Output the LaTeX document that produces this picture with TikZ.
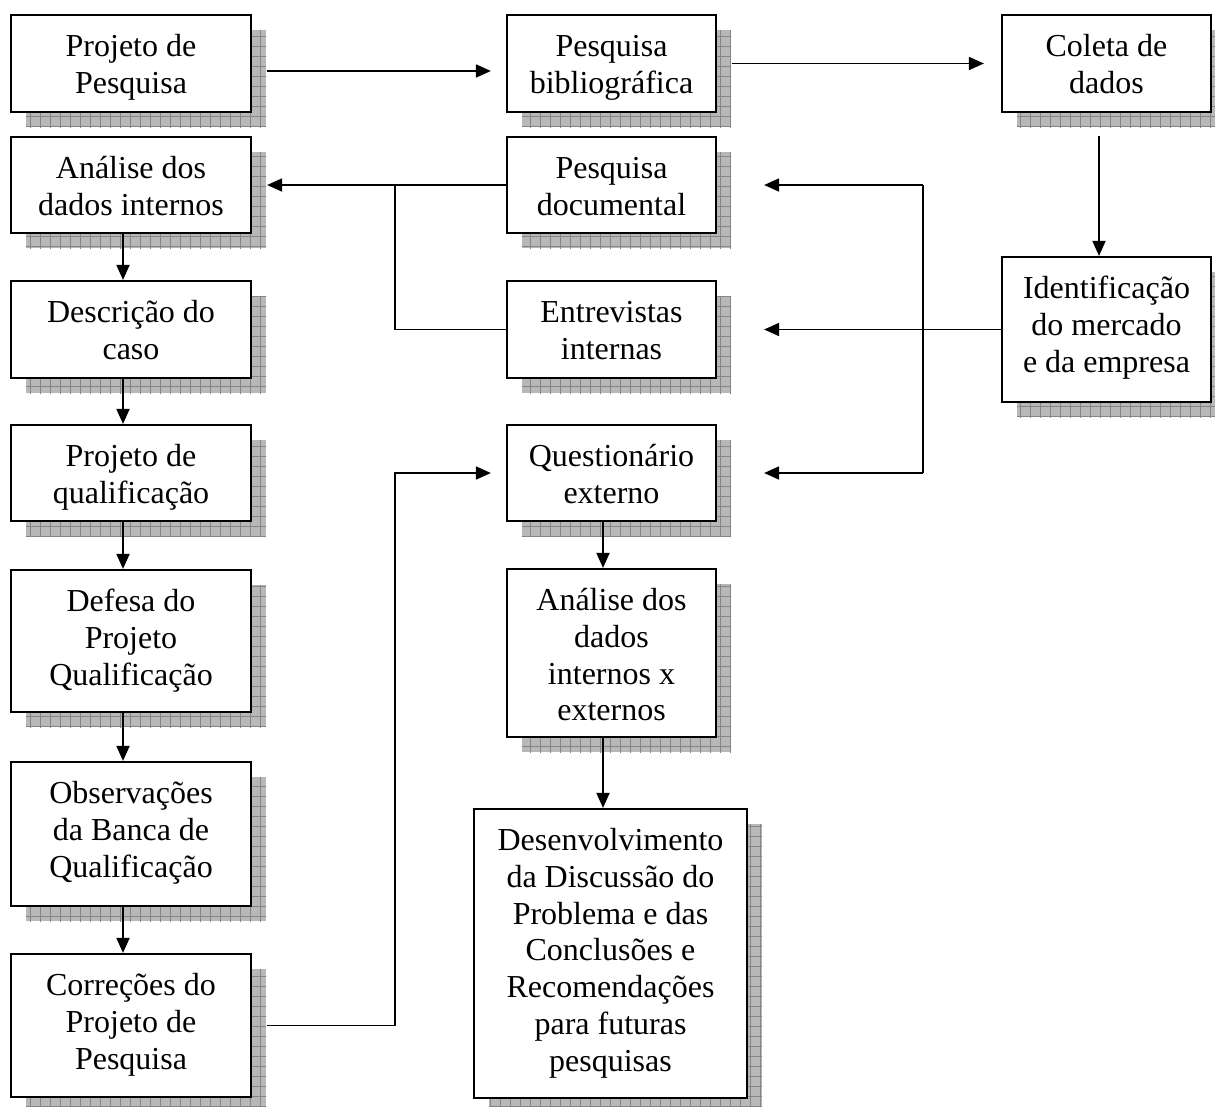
\documentclass[tikz,border=0pt]{standalone}
\usepackage{fontspec}
\setmainfont{Liberation Serif}
\usetikzlibrary{arrows.meta,patterns.meta}
\tikzset{
  boxst/.style={draw, line width=2.2pt, fill=white, inner sep=0pt},
  txtst/.style={align=center, inner sep=0pt, anchor=north,
    font=\fontsize{32}{36.7}\selectfont},
  shadowfill/.style={fill=black!28},
  shadowgrid/.style={pattern={Hatch[angle=0,distance=10pt,line width=0.7pt]}, pattern color=black!48},
  conn/.style={line width=1.8pt},
  arr/.style={conn, -{Triangle[length=15pt,width=13pt]}},
}
\newcommand{\shbox}[6]{%
  \fill[shadowfill] (#2+15,#3+15) rectangle (#4+15,#5+15);
  \fill[shadowgrid] (#2+15,#3+15) rectangle (#4+15,#5+15);
  \node[boxst, minimum width={(#4-#2)*1pt}, minimum height={(#5-#3)*1pt}] (#1) at ({(#2+#4)/2},{(#3+#5)/2}) {};
  \node[txtst] (#1-t) at ([yshift=-14.5pt]#1.north) {\rule{0pt}{28.2pt}#6};
}
\begin{document}
\begin{tikzpicture}[x=1pt,y=-1pt]
\useasboundingbox (0,0) rectangle (1215,1106);
\clip (0,0) rectangle (1215,1106);
% left column
\shbox{pp}{11}{15}{251}{112}{Projeto de\\Pesquisa}
\shbox{ad}{11}{137}{251}{233}{Análise dos\\dados internos}
\shbox{dc}{11}{281}{251}{378}{Descrição do\\caso}
\shbox{pq}{11}{425}{251}{521}{Projeto de\\qualificação}
\shbox{dp}{11}{570}{251}{712}{Defesa do\\Projeto\\Qualificação}
\shbox{ob}{11}{762}{251}{906}{Observações\\da Banca de\\Qualificação}
\shbox{co}{11}{954}{251}{1097}{Correções do\\Projeto de\\Pesquisa}
% middle column
\shbox{pb}{507}{15}{716}{112}{Pesquisa\\bibliográfica}
\shbox{pd}{507}{137}{716}{233}{Pesquisa\\documental}
\shbox{ei}{507}{281}{716}{378}{Entrevistas\\internas}
\shbox{qe}{507}{425}{716}{521}{Questionário\\externo}
\shbox{ax}{507}{569}{716}{737}{Análise dos\\dados\\internos x\\externos}
\shbox{de}{474}{809}{747}{1098}{Desenvolvimento\\da Discussão do\\Problema e das\\Conclusões e\\Recomendações\\para futuras\\pesquisas}
% right column
\shbox{cd}{1002}{15}{1211}{112}{Coleta de\\dados}
\shbox{id}{1002}{257}{1211}{402}{Identificação\\do mercado\\e da empresa}
% junction coordinates
\coordinate (j1) at (395,185);
\coordinate (j2) at (923,185);
\coordinate (j3) at (923,473);
\coordinate (j4) at (395,473);
\coordinate (m1) at ([xshift=-8.5pt]ax.south);
% top row
\draw[arr, shorten <=15pt, shorten >=15pt] ([yshift=-7.5pt]pp.east) -- ([yshift=-7.5pt]pb.west);
\draw[arr, shorten <=15pt, shorten >=17pt] (pb.east) -- (cd.west);
% documental / entrevistas to analise
\draw[arr, shorten >=15pt] (pd.west) -- (ad.east);
\draw[conn] (ei.west) -| (j1);
% left column chain
\draw[arr] ([xshift=-8pt]ad.south) -- ([xshift=-8pt]dc.north);
\draw[arr] ([xshift=-8pt]dc.south) -- ([xshift=-8pt]pq.north);
\draw[arr] ([xshift=-8pt]pq.south) -- ([xshift=-8pt]dp.north);
\draw[arr] ([xshift=-8pt]dp.south) -- ([xshift=-8pt]ob.north);
\draw[arr] ([xshift=-8pt]ob.south) -- ([xshift=-8pt]co.north);
% right column
\draw[arr, shorten <=23pt] ([xshift=-7.5pt]cd.south) -- ([xshift=-7.5pt]id.north);
\draw[arr, shorten >=47pt] (id.west) -- (ei.east);
\draw[conn] (j2) -- (j3);
\draw[arr, shorten >=47pt] (j2) -- (pd.east);
\draw[arr, shorten >=47pt] (j3) -- (qe.east);
% correcoes to questionario
\draw[arr, shorten <=15pt, shorten >=15pt] (co.east) -| (j4) -- (qe.west);
% middle chain
\draw[arr] ([xshift=-8.5pt]qe.south) -- ([xshift=-8.5pt]ax.north);
\draw[arr] (m1) -- (m1 |- de.north);
\end{tikzpicture}
\end{document}
